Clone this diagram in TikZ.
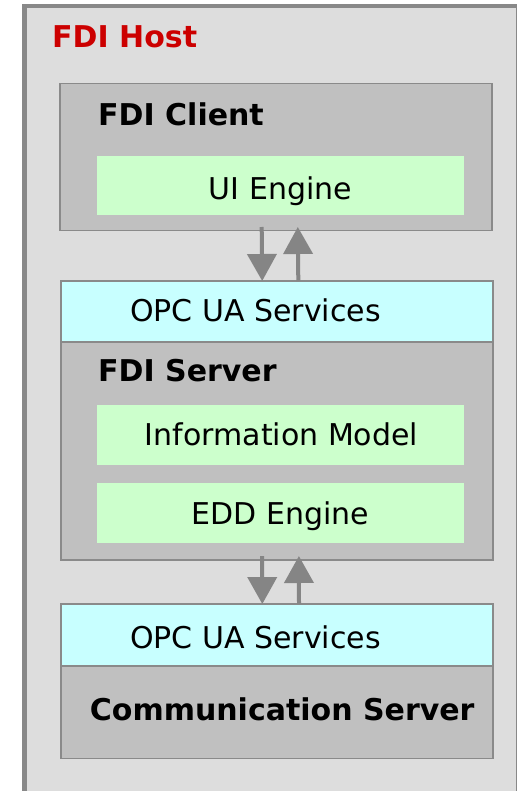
\documentclass[tikz,border=0pt]{standalone}
\usepackage{fontspec}
\setmainfont{DejaVu Sans}
\usetikzlibrary{arrows.meta}
\definecolor{hostfill}{HTML}{DDDDDD}
\definecolor{framegray}{HTML}{888888}
\definecolor{boxgray}{HTML}{C0C0C0}
\definecolor{boxline}{HTML}{8A8A8A}
\definecolor{greenfill}{HTML}{CCFFCC}
\definecolor{cyanfill}{HTML}{C8FFFF}
\definecolor{hostred}{HTML}{CC0000}
\definecolor{arrowgray}{HTML}{858585}
\begin{document}
\begin{tikzpicture}[x=1pt,y=-1pt,
  bigbox/.style={draw=boxline,line width=1.6pt,fill=boxgray,minimum width=432pt,inner sep=0pt,outer sep=0pt},
  opcbox/.style={draw=boxline,line width=1.6pt,fill=cyanfill,minimum width=432pt,minimum height=61pt,inner sep=0pt,outer sep=0pt},
  greenbox/.style={fill=greenfill,minimum width=367pt,minimum height=59pt,inner sep=0pt,outer sep=0pt},
  plain/.style={font=\fontsize{30}{36}\selectfont,inner sep=0pt},
  title/.style={font=\fontsize{30}{36}\selectfont\bfseries,inner sep=0pt},
  arr/.style={draw=arrowgray,line width=4pt,-{Triangle[width=29pt,length=27pt]}}
]
\useasboundingbox (0,0) rectangle (517,791);
\fill[white] (0,0) rectangle (517,791);
\clip (0,0) rectangle (517,791);
% FDI Host frame
\fill[framegray] (22,4) rectangle (516.5,800);
\fill[hostfill] (26.5,8.5) rectangle (515.5,800);
\node[title,text=hostred,anchor=base west] (host) at (52,48) {FDI Host};

% FDI Client
\node[bigbox,minimum height=147pt] (client) at (276.2,157) {};
\node[title,anchor=base west] (clientlbl) at (98,125.7) {FDI Client};
\node[greenbox] (ui) at (280.4,186) {};
\node[plain,anchor=base] (uilbl) at (280.4,200) {UI Engine};

% FDI Server
\node[opcbox] (sopc) at (276.7,311.5) {};
\node[plain,anchor=base west] (sopclbl) at (130,321.7) {OPC UA Services};
\node[bigbox,minimum height=218pt] (server) at (276.7,451) {};
\node[title,anchor=base west] (serverlbl) at (98,381.7) {FDI Server};
\node[greenbox,minimum height=60pt] (im) at (280.6,435) {};
\node[plain,anchor=base] (imlbl) at (281.5,445.7) {Information Model};
\node[greenbox,minimum height=60pt] (edd) at (280.6,513.3) {};
\node[plain,anchor=base] (eddlbl) at (280.4,524) {EDD Engine};

% Communication Server
\node[opcbox,minimum height=61.7pt] (copc) at (276.8,634.9) {};
\node[plain,anchor=base west] (copclbl) at (130,648) {OPC UA Services};
\node[bigbox,minimum height=92.6pt] (comm) at (276.8,712) {};
\node[title,anchor=base] (commlbl) at (282.2,720.7) {Communication Server};

% arrows
\draw[arr] ([xshift=-14.5pt,yshift=3.5pt]client.south) -- ([xshift=-14.5pt]sopc.north);
\draw[arr] ([xshift=21.6pt]sopc.north) -- ([xshift=21.6pt,yshift=3.5pt]client.south);
\draw[arr] ([xshift=-14.5pt,yshift=4pt]server.south) -- ([xshift=-14.5pt]copc.north);
\draw[arr] ([xshift=22.2pt]copc.north) -- ([xshift=22.2pt,yshift=4pt]server.south);
\end{tikzpicture}
\end{document}
